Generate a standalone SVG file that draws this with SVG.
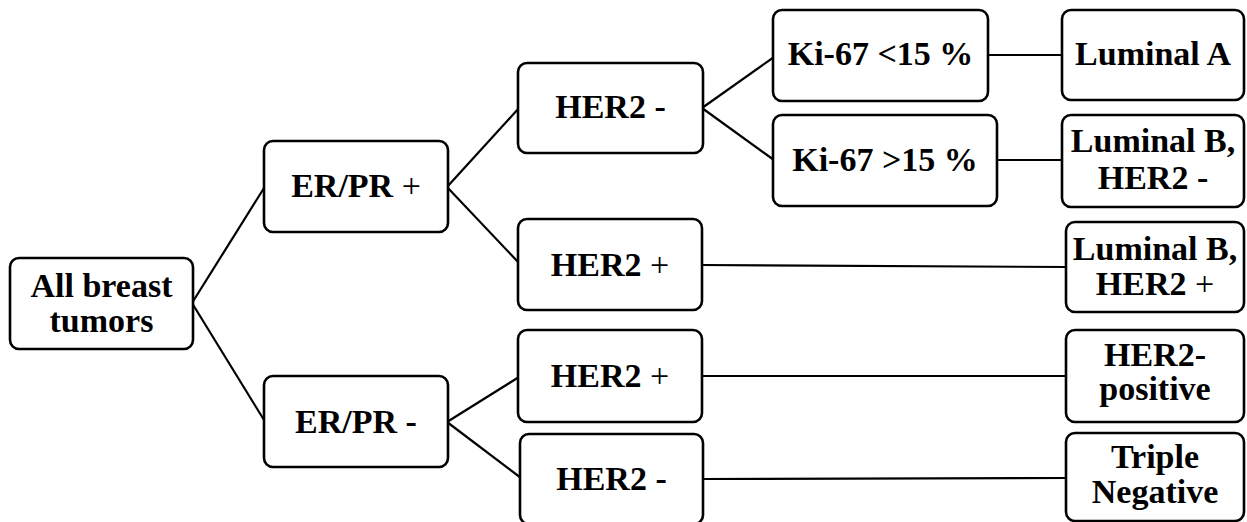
<svg xmlns="http://www.w3.org/2000/svg" width="1247" height="522" viewBox="0 0 1247 522">
<style>
.box{fill:#fff;stroke:#000;stroke-width:2.6}
.t{font-family:"Liberation Serif","Times New Roman",serif;font-size:34px;font-weight:700;fill:#000;text-anchor:middle}
.n{font-weight:400}
.c{stroke:#000;stroke-width:2.2;fill:none}
</style>
<rect width="1247" height="522" fill="#fff"/>
<g id="connectors">
<line class="c" x1="192" y1="303" x2="264" y2="188"/>
<line class="c" x1="192" y1="303" x2="264" y2="420"/>
<line class="c" x1="447" y1="187" x2="519" y2="108"/>
<line class="c" x1="447" y1="187" x2="519" y2="263"/>
<line class="c" x1="447" y1="422" x2="519" y2="377"/>
<line class="c" x1="447" y1="422" x2="521" y2="478"/>
<line class="c" x1="702" y1="108" x2="774" y2="57"/>
<line class="c" x1="702" y1="108" x2="774" y2="160"/>
<line class="c" x1="988" y1="55" x2="1062" y2="55"/>
<line class="c" x1="997" y1="160" x2="1062" y2="160"/>
<line class="c" x1="702" y1="265" x2="1066" y2="267"/>
<line class="c" x1="702" y1="376" x2="1066" y2="376"/>
<line class="c" x1="703" y1="479" x2="1066" y2="478"/>
</g>
<g id="all">
<rect class="box" x="10" y="258" width="183" height="91" rx="9"/>
<text class="t" x="101.5" y="297">All breast</text>
<text class="t" x="101.5" y="332">tumors</text>
</g>
<g id="erpr-pos">
<rect class="box" x="264" y="141" width="184" height="91" rx="9"/>
<text class="t" x="356" y="197">ER/PR <tspan class="n">+</tspan></text>
</g>
<g id="erpr-neg">
<rect class="box" x="264" y="376" width="184" height="91" rx="9"/>
<text class="t" x="356" y="433">ER/PR -</text>
</g>
<g id="her2-neg-1">
<rect class="box" x="518" y="63" width="185" height="90" rx="9"/>
<text class="t" x="610.5" y="118">HER2 -</text>
</g>
<g id="her2-pos-1">
<rect class="box" x="518" y="219" width="184" height="91" rx="9"/>
<text class="t" x="610" y="276">HER2 <tspan class="n">+</tspan></text>
</g>
<g id="her2-pos-2">
<rect class="box" x="518" y="330" width="184" height="92" rx="9"/>
<text class="t" x="610" y="387">HER2 <tspan class="n">+</tspan></text>
</g>
<g id="her2-neg-2">
<rect class="box" x="520" y="434" width="183" height="90" rx="9"/>
<text class="t" x="611.5" y="490">HER2 -</text>
</g>
<g id="ki-low">
<rect class="box" x="773" y="10" width="215" height="91" rx="9"/>
<text class="t" x="880.5" y="65">Ki-67 &lt;15 %</text>
</g>
<g id="ki-high">
<rect class="box" x="773" y="115" width="224" height="91" rx="9"/>
<text class="t" x="885" y="171">Ki-67 &gt;15 %</text>
</g>
<g id="luminal-a">
<rect class="box" x="1062" y="10" width="182" height="90" rx="9"/>
<text class="t" x="1153" y="65">Luminal A</text>
</g>
<g id="luminal-b-neg">
<rect class="box" x="1062" y="115" width="182" height="92" rx="9"/>
<text class="t" x="1153" y="152">Luminal B,</text>
<text class="t" x="1153" y="189">HER2 -</text>
</g>
<g id="luminal-b-pos">
<rect class="box" x="1066" y="222" width="178" height="90" rx="9"/>
<text class="t" x="1155" y="260">Luminal B,</text>
<text class="t" x="1155" y="295">HER2 <tspan class="n">+</tspan></text>
</g>
<g id="her2-positive">
<rect class="box" x="1066" y="330" width="178" height="92" rx="9"/>
<text class="t" x="1155" y="366">HER2-</text>
<text class="t" x="1155" y="400">positive</text>
</g>
<g id="triple-negative">
<rect class="box" x="1066" y="433" width="178" height="88" rx="9"/>
<text class="t" x="1155" y="468">Triple</text>
<text class="t" x="1155" y="503">Negative</text>
</g>
</svg>
